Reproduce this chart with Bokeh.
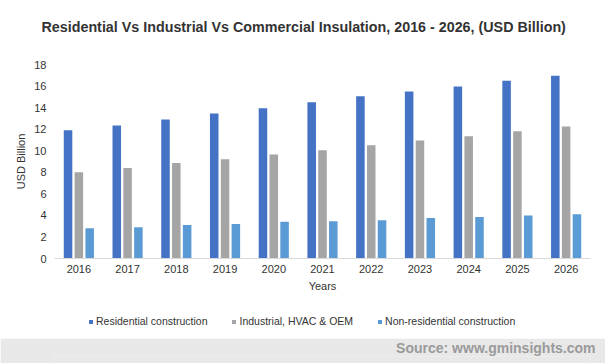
from bokeh.plotting import figure
from bokeh.models import Legend, LegendItem, ColumnDataSource, FactorRange, Title
from bokeh.layouts import column
from bokeh.transform import dodge
from bokeh.embed import file_html
from bokeh.resources import INLINE

years = [str(y) for y in range(2016, 2027)]
residential = [11.9, 12.35, 12.9, 13.45, 13.95, 14.5, 15.05, 15.5, 15.95, 16.5, 16.95]
industrial = [8.0, 8.4, 8.85, 9.2, 9.65, 10.05, 10.5, 10.95, 11.35, 11.8, 12.25]
nonresidential = [2.8, 2.9, 3.1, 3.2, 3.4, 3.45, 3.55, 3.75, 3.85, 4.0, 4.1]
series_names = ["Residential construction", "Industrial, HVAC & OEM", "Non-residential construction"]
colors = ["#4472C4", "#A5A5A5", "#5B9BD5"]
y_ticks = [0, 2, 4, 6, 8, 10, 12, 14, 16, 18]
title_text = "Residential Vs Industrial Vs Commercial Insulation, 2016 - 2026, (USD Billion)"
source_text = "Source: www.gminsights.com"

FONT = "Liberation Sans"
W, H_HEAD, H_MAIN, H_LEG, H_FOOT = 605, 54, 246, 38, 25
LEFT, RIGHT = 54, 15


def strip(height, **kw):
    s = figure(width=W, height=height, output_backend="svg", toolbar_location=None,
               x_axis_type=None, y_axis_type=None,
               min_border_left=LEFT, min_border_right=RIGHT,
               min_border_top=0, min_border_bottom=0, **kw)
    s.outline_line_color = None
    s.grid.grid_line_color = None
    return s


src = ColumnDataSource(dict(years=years, res=residential, ind=industrial, non=nonresidential))
cols = ["res", "ind", "non"]
offsets = [-0.222, 0.0, 0.222]

# ---------------- header (title) ----------------
head = strip(H_HEAD, x_range=(0, 1), y_range=(0, 1))
head.title = Title(text=title_text, align="left", offset=-13, standoff=32,
                   text_font=FONT, text_font_style="bold", text_font_size="14.3px",
                   text_color="#333333")

# ---------------- main chart ----------------
p = figure(width=W, height=H_MAIN, x_range=FactorRange(*years), y_range=(0, 18),
           output_backend="svg", toolbar_location=None,
           min_border_left=LEFT, min_border_right=RIGHT, min_border_top=10, min_border_bottom=42)
p.outline_line_color = None
p.grid.grid_line_color = None

for col, off, c in zip(cols, offsets, colors):
    p.vbar(x=dodge("years", off, range=p.x_range), top=col, width=0.175,
           source=src, fill_color=c, line_color=None)

p.yaxis.ticker = y_ticks
p.yaxis.axis_line_color = None
p.yaxis.major_label_standoff = 8
p.yaxis.axis_label = "USD Billion"
p.yaxis.axis_label_standoff = 4

p.xaxis.axis_line_color = "#D9D9D9"
p.xaxis.axis_line_width = 1
p.xaxis.major_label_standoff = 6
p.xaxis.axis_label = "Years"
p.xaxis.axis_label_standoff = 4

for ax in (p.xaxis, p.yaxis):
    ax.major_tick_line_color = None
    ax.minor_tick_line_color = None
    ax.major_tick_out = 0
    ax.major_tick_in = 0
    ax.minor_tick_out = 0
    ax.minor_tick_in = 0
    ax.major_label_text_font = FONT
    ax.major_label_text_font_size = "11px"
    ax.major_label_text_color = "#333333"
    ax.axis_label_text_font = FONT
    ax.axis_label_text_font_style = "normal"
    ax.axis_label_text_font_size = "11px"
    ax.axis_label_text_color = "#333333"

# ---------------- legend strip ----------------
# same series, but the view range lies above the data, so only the legend shows
lg = strip(H_LEG, x_range=FactorRange(*years), y_range=(100, 101))
leg_renderers = []
for col, off, c in zip(cols, offsets, colors):
    r = lg.vbar(x=dodge("years", off, range=lg.x_range), top=col, width=0.175,
                source=src, fill_color=c, line_color=None)
    leg_renderers.append(r)

legend = Legend(items=[LegendItem(label=n, renderers=[r]) for n, r in zip(series_names, leg_renderers)],
                orientation="horizontal", location=(88 - LEFT, 11),
                glyph_width=5, glyph_height=5, label_height=11, label_standoff=3, spacing=24,
                padding=0, margin=0, border_line_color=None, background_fill_alpha=0,
                label_text_font=FONT, label_text_font_size="10.5px", label_text_color="#333333")
lg.add_layout(legend, "center")

# ---------------- source footer band ----------------
f = strip(H_FOOT, x_range=(0, 1), y_range=(0, 1))
f.background_fill_color = "#E8E8E8"
f.border_fill_color = "#E8E8E8"
f.title = Title(text=source_text, align="right", offset=-5, standoff=0,
                vertical_align="middle",
                text_font=FONT, text_font_style="bold", text_font_size="14px",
                text_color="#9A9A9A")

layout = column(head, p, lg, f, spacing=0)
open("out.html", "w").write(file_html(layout, INLINE))
